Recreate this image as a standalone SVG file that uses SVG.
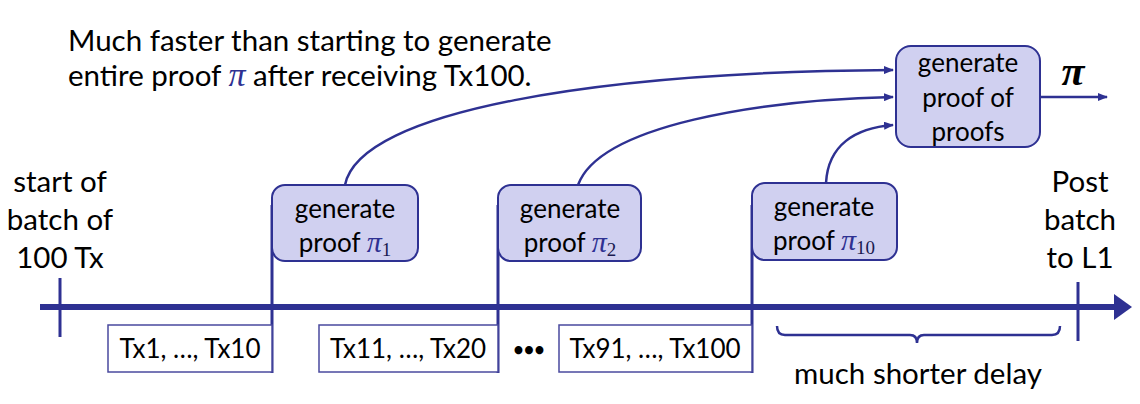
<svg xmlns="http://www.w3.org/2000/svg" width="1140" height="404" viewBox="0 0 1140 404">
<defs>
<style>
.t{font-family:Lato,"Open Sans",sans-serif;fill:#000}
.big{font-size:29.5px}
.nd{font-size:26px}
.pi{font-family:"Liberation Serif","DejaVu Serif",serif;font-style:italic;fill:#2E3192}
.sub{font-family:"Liberation Serif","DejaVu Serif",serif;font-style:normal;fill:#1a1a50;font-size:19px}
.box{fill:#D0D0F0;stroke:#2E3192;stroke-width:2}
.tx{fill:#fff;stroke:#4A4A9E;stroke-width:1.5}
.ln{stroke:#2E3192;fill:none}
</style>
<marker id="ah" markerWidth="10" markerHeight="8" refX="9" refY="4" orient="auto" markerUnits="userSpaceOnUse">
<path d="M0,0 L10,4 L0,8 Z" fill="#2E3192"/>
</marker>
</defs>
<rect width="1140" height="404" fill="#fff"/>
<g id="headline">
<text class="t big" x="68" y="51">Much faster than starting to generate</text>
<text class="t big" x="68" y="86">entire proof <tspan class="pi" font-size="34">π</tspan> after receiving Tx100.</text>
</g>
<g id="start-label">
<text class="t big" text-anchor="middle" x="60" y="192">start of</text>
<text class="t big" text-anchor="middle" x="60" y="230">batch of</text>
<text class="t big" text-anchor="middle" x="60" y="268">100 Tx</text>
</g>
<g id="post-label">
<text class="t big" text-anchor="middle" x="1080" y="192">Post</text>
<text class="t big" text-anchor="middle" x="1080" y="230">batch</text>
<text class="t big" text-anchor="middle" x="1080" y="268">to L1</text>
</g>
<g id="connectors">
<line class="ln" x1="40" y1="307" x2="1116" y2="307" stroke-width="6"/>
<path d="M1114,294 L1132,307 L1114,320 Z" fill="#2E3192"/>
<line class="ln" x1="60" y1="278" x2="60" y2="337" stroke-width="3"/>
<line class="ln" x1="1078" y1="282" x2="1078" y2="341" stroke-width="3"/>
<line class="ln" x1="272" y1="205" x2="272" y2="373" stroke-width="3"/>
<line class="ln" x1="498" y1="205" x2="498" y2="373" stroke-width="3"/>
<line class="ln" x1="752" y1="205" x2="752" y2="373" stroke-width="3"/>
<path class="ln" stroke-width="2.5" d="M345,185 C360,110 600,72 893,70" marker-end="url(#ah)"/>
<path class="ln" stroke-width="2.5" d="M578,185 C600,125 760,100 893,97" marker-end="url(#ah)"/>
<path class="ln" stroke-width="2.5" d="M826,183 C828,145 855,128 893,125" marker-end="url(#ah)"/>
<line class="ln" stroke-width="2.5" x1="1040" y1="97" x2="1107" y2="97" marker-end="url(#ah)"/>
<path class="ln" stroke-width="2.5" d="M777,326 Q777,335 785,335 L910,335 Q917,335 917,343 Q917,335 924,335 L1052,335 Q1060,335 1060,326"/>
</g>
<g id="tx1">
<rect class="tx" x="108" y="325" width="164" height="47"/>
<text class="t nd" text-anchor="middle" x="190" y="358">Tx1, …, Tx10</text>
</g>
<g id="tx11">
<rect class="tx" x="319" y="325" width="179" height="47"/>
<text class="t nd" text-anchor="middle" x="408" y="358">Tx11, …, Tx20</text>
</g>
<g id="dots">
<text class="t" text-anchor="middle" x="529" y="356" font-size="18" font-weight="bold">•••</text>
</g>
<g id="tx91">
<rect class="tx" x="559" y="325" width="193" height="47"/>
<text class="t nd" text-anchor="middle" x="655" y="358">Tx91, …, Tx100</text>
</g>
<g id="delay-label">
<text class="t big" text-anchor="middle" x="918" y="384">much shorter delay</text>
</g>
<g id="proof1">
<rect class="box" x="272" y="185" width="146" height="76" rx="13"/>
<text class="t nd" text-anchor="middle" x="345" y="218">generate</text>
<text class="t nd" text-anchor="middle" x="345" y="252">proof <tspan class="pi" font-size="30">π</tspan><tspan class="sub" dy="4">1</tspan></text>
</g>
<g id="proof2">
<rect class="box" x="498" y="185" width="143" height="76" rx="13"/>
<text class="t nd" text-anchor="middle" x="570" y="218">generate</text>
<text class="t nd" text-anchor="middle" x="570" y="252">proof <tspan class="pi" font-size="30">π</tspan><tspan class="sub" dy="4">2</tspan></text>
</g>
<g id="proof10">
<rect class="box" x="752" y="183" width="145" height="77" rx="13"/>
<text class="t nd" text-anchor="middle" x="824" y="216">generate</text>
<text class="t nd" text-anchor="middle" x="824" y="250">proof <tspan class="pi" font-size="30">π</tspan><tspan class="sub" dy="4">10</tspan></text>
</g>
<g id="proof-of-proofs">
<rect class="box" x="896" y="46" width="144" height="101" rx="15"/>
<text class="t nd" text-anchor="middle" x="968" y="72">generate</text>
<text class="t nd" text-anchor="middle" x="968" y="107">proof of</text>
<text class="t nd" text-anchor="middle" x="968" y="141">proofs</text>
</g>
<g id="pi-output">
<text x="1073" y="85" font-family="Liberation Serif,serif" font-style="italic" font-weight="bold" font-size="42" text-anchor="middle" fill="#000">π</text>
</g>
</svg>
